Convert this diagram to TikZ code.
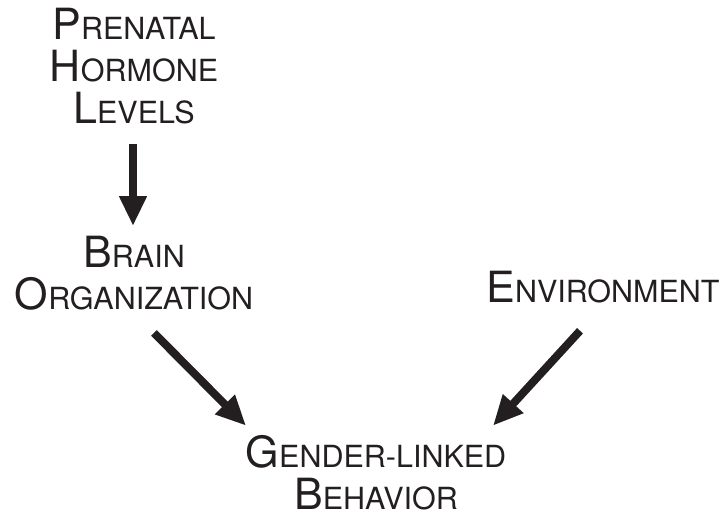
\documentclass[tikz,border=0pt]{standalone}
\usepackage{fontspec}
\setmainfont{TeX Gyre Heros}
\usetikzlibrary{arrows.meta}
\newcommand\capsc[2]{{\fontsize{43}{42}\selectfont #1}{\fontsize{30.5}{42}\selectfont #2}}
\definecolor{ink}{HTML}{231F20}
\tikzset{
  lbl/.style={align=center, inner sep=0pt, anchor=base, text=ink, font=\fontsize{30.5}{42}\selectfont},
  fat/.style={draw=ink, line width=8pt, -{Triangle[length=30pt,width=26pt]}, fill=ink}
}
\begin{document}
\begin{tikzpicture}[x=1pt,y=-1pt]
\useasboundingbox (0,0) rectangle (725,519);
\node[lbl] (prenatal) at (134,123) {\capsc{P}{RENATAL}\\\capsc{H}{ORMONE}\\\capsc{L}{EVELS}};
\node[lbl] (brain) at (134,309) {\capsc{B}{RAIN}\\\capsc{O}{RGANIZATION}};
\node[lbl] (env) at (603,302) {\capsc{E}{NVIRONMENT}};
\node[lbl] (gender) at (376,509) {\capsc{G}{ENDER-LINKED}\\\capsc{B}{EHAVIOR}};
\draw[fat] ([xshift=-1pt,yshift=-20pt]prenatal.south) -- ([xshift=-1pt]prenatal.south |- 0,226);
\draw[fat] ([shift={(20,23)}]brain.south) -- ([shift={(-130,-9)}]gender.north);
\draw[fat] ([shift={(-23,28)}]env.south) -- ([shift={(117,-9)}]gender.north);
\end{tikzpicture}
\end{document}
